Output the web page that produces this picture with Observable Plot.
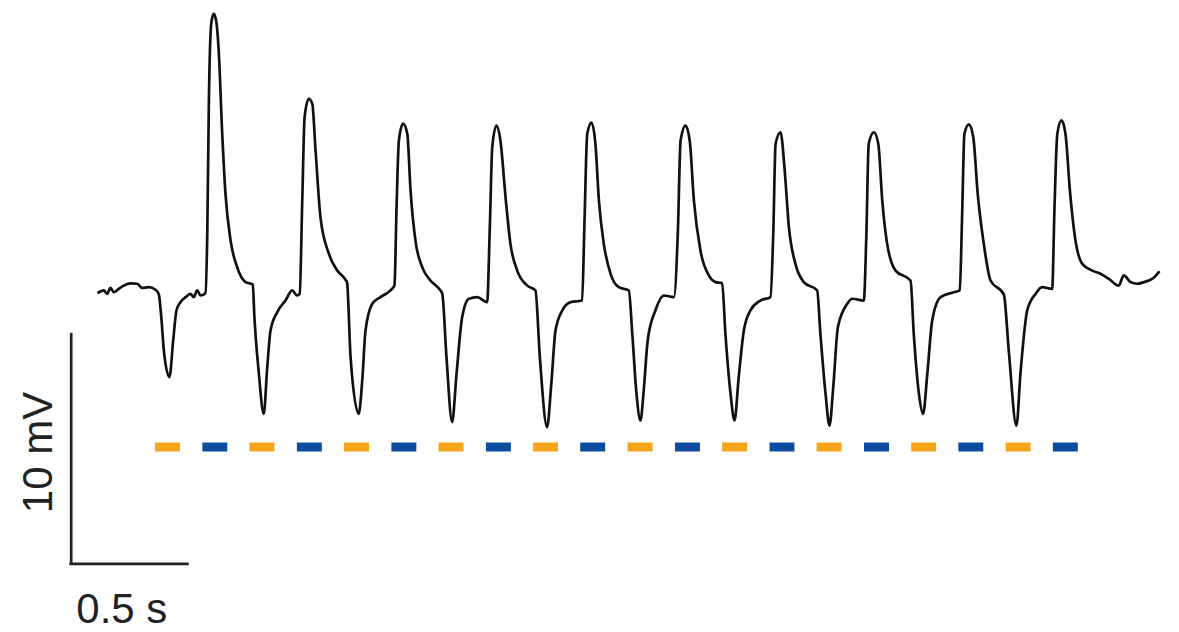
<!DOCTYPE html>
<html>
<head>
<meta charset="utf-8">
<script src="https://cdn.jsdelivr.net/npm/d3@7"></script>
<script src="https://cdn.jsdelivr.net/npm/@observablehq/plot@0.6"></script>
<style>
  html, body { margin: 0; padding: 0; background: #fff; }
  #chart svg { display: block; overflow: visible; }
</style>
</head>
<body>
<div id="chart"></div>
<script>
// Membrane potential trace: time (s) and voltage (mV, relative to resting baseline)
const traceTime = [0.000,0.023,0.037,0.051,0.066,0.087,0.108,0.137,0.166,0.187,0.216,0.244,0.258,0.269,0.280,0.304,0.320,0.334,0.351,0.373,0.394,0.408,0.423,0.437,0.458,
0.466,0.473,0.483,0.494,0.506,0.515,0.530,0.544,0.566,0.594,0.630,0.661,0.668,0.687,0.708,0.723,0.737,0.766,0.801,0.830,0.851,0.862,
0.873,0.883,0.901,0.916,0.930,0.951,0.987,1.023,1.058,1.065,1.080,1.115,1.130,1.144,1.173,1.208,1.251,1.268,
1.277,1.287,1.305,1.323,1.337,1.358,1.387,1.422,1.465,1.473,1.491,1.515,1.534,1.558,1.587,1.623,1.665,
1.677,1.687,1.705,1.722,1.744,1.765,1.794,1.837,1.872,1.891,1.922,1.940,1.958,1.987,2.022,2.072,
2.082,2.094,2.112,2.129,2.144,2.165,2.194,2.229,2.272,2.287,2.305,2.322,2.336,2.353,2.386,2.422,2.465,
2.482,2.494,2.515,2.533,2.551,2.579,2.615,2.644,2.672,2.686,2.708,2.725,2.743,2.765,2.793,2.836,2.879,
2.891,2.901,2.922,2.939,2.958,2.986,3.022,3.079,3.093,3.115,3.132,3.148,3.168,3.208,3.229,3.279,
3.290,3.300,3.322,3.341,3.358,3.379,3.415,3.479,3.493,3.515,3.533,3.551,3.572,3.608,3.665,3.690,
3.700,3.710,3.729,3.748,3.767,3.793,3.822,3.879,3.900,3.933,3.950,3.979,4.015,4.043,4.086,
4.096,4.108,4.126,4.143,4.162,4.186,4.215,4.258,4.293,4.329,4.371,4.393,4.422,4.450,4.479,4.500,4.521,4.543];
const traceMv = [0.00,0.09,-0.06,0.20,0.01,0.16,0.30,0.40,0.38,0.20,0.23,0.12,-0.06,-1.07,-2.52,-3.67,-2.08,-0.78,-0.42,-0.20,-0.06,-0.20,0.09,-0.13,-0.03,
2.56,8.33,11.65,12.09,11.65,10.49,6.90,4.29,2.25,1.10,0.45,0.35,-1.07,-3.51,-5.26,-3.24,-1.65,-0.85,-0.35,0.09,-0.13,-0.06,
3.99,7.60,8.40,8.18,6.16,3.27,1.68,0.95,0.56,0.43,-2.81,-5.26,-3.82,-1.65,-0.49,-0.20,0.09,0.30,
3.70,6.59,7.32,6.88,4.42,2.25,1.10,0.52,0.09,-0.06,-2.81,-5.62,-3.53,-1.07,-0.27,-0.20,-0.42,
2.98,6.30,7.24,6.59,4.13,2.11,0.95,0.30,0.09,-2.81,-5.84,-3.96,-1.65,-0.78,-0.42,-0.35,
2.98,6.88,7.37,6.45,3.99,2.11,0.81,0.23,0.09,-1.79,-4.39,-5.55,-4.25,-2.08,-0.78,-0.13,-0.20,
2.55,6.59,7.24,6.59,3.99,1.82,0.74,0.45,0.40,-1.79,-4.39,-5.55,-3.67,-1.65,-0.78,-0.35,-0.20,
2.55,6.45,6.95,5.43,2.83,1.24,0.45,0.09,-1.79,-4.39,-5.77,-4.11,-1.50,-0.49,-0.27,-0.35,
2.55,6.45,6.95,6.45,3.99,2.11,0.95,0.52,-1.79,-4.39,-5.26,-3.53,-1.21,-0.20,0.01,0.09,
3.27,6.88,7.29,6.73,4.28,2.11,0.52,-0.09,-2.52,-5.77,-3.53,-0.78,-0.06,0.23,0.16,
3.70,6.88,7.46,6.88,4.42,2.25,1.24,0.95,0.81,0.59,0.30,0.74,0.45,0.38,0.45,0.52,0.64,0.88];

// Stimulation pulses: onset (s) and type (alternating)
const stimStart = [0.244,0.447,0.649,0.852,1.054,1.257,1.459,1.662,1.864,2.066,2.269,2.472,2.674,2.877,3.079,3.282,3.484,3.686,3.889,4.091];
const stimType  = ["A","B","A","B","A","B","A","B","A","B","A","B","A","B","A","B","A","B","A","B"];
const stimDuration = 0.107;  // s
const stimLevel = -6.70;     // mV row on which the pulses are drawn

// Scale bars
const scaleBarTime = [-0.117, 0.383];   // 0.5 s
const scaleBarMv   = [-11.77, -1.77];   // 10 mV
const scaleLabels  = ["0.5 s", "10 mV"];

const trace = traceTime.map((t, i) => ({t, v: traceMv[i]}));
const stims = stimStart.map((s, i) => ({x1: s, x2: s + stimDuration, y: stimLevel, type: stimType[i]}));

const pxPerSec = 233.4, pxPerMv = 23.06, x0 = 98, y0 = 292;
const font = "'Liberation Sans', Arial, Helvetica, sans-serif";

const chart = Plot.plot({
  width: 1179,
  height: 632,
  style: {background: "#fff", fontFamily: font},
  x: {domain: [0, 4.5], range: [x0, x0 + 4.5 * pxPerSec], axis: null},
  y: {domain: [-12, 13], range: [y0 + 12 * pxPerMv, y0 - 13 * pxPerMv], axis: null},
  color: {domain: ["A", "B"], range: ["#F5A41C", "#0C4DA2"]},
  marks: [
    Plot.line(trace, {x: "t", y: "v", stroke: "#111", strokeWidth: 2.7, strokeLinejoin: "round", curve: "monotone-x"}),
    Plot.ruleY(stims, {y: "y", x1: "x1", x2: "x2", stroke: "type", strokeWidth: 9}),
    Plot.ruleX([scaleBarTime[0]], {y1: scaleBarMv[0], y2: scaleBarMv[1], stroke: "#222", strokeWidth: 2.7}),
    Plot.ruleY([scaleBarMv[0]], {x1: scaleBarTime[0], x2: scaleBarTime[1], stroke: "#222", strokeWidth: 2.7, strokeLinecap: "square"}),
    Plot.text([scaleLabels[0]], {x: 0.10, y: scaleBarMv[0], text: d => d, dy: 46, fontSize: 42, fill: "#222", textAnchor: "middle"}),
    Plot.text([scaleLabels[1]], {x: -0.257, y: -6.94, text: d => d, rotate: -90, fontSize: 42, fill: "#222", textAnchor: "middle"})
  ]
});
document.getElementById("chart").appendChild(chart);
</script>
</body>
</html>
